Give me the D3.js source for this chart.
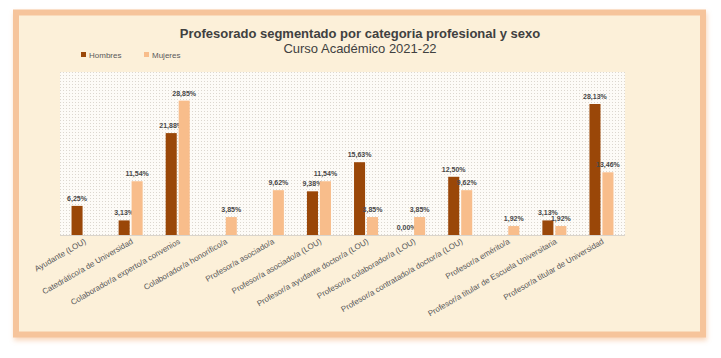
<!DOCTYPE html>
<html><head><meta charset="utf-8">
<script src="https://cdn.jsdelivr.net/npm/d3@7"></script>
<style>body{margin:0;background:#fff;}svg{display:block;font-family:Arial,"Liberation Sans",sans-serif;}</style>
</head><body>
<svg id="c" width="721" height="358"></svg>
<script>
const categories = ["Ayudante (LOU)","Catedrático/a de Universidad","Colaborador/a experto/a convenios","Colaborador/a honorífico/a","Profesor/a asociado/a","Profesor/a asociado/a (LOU)","Profesor/a ayudante doctor/a (LOU)","Profesor/a colaborador/a (LOU)","Profesor/a contratado/a doctor/a (LOU)","Profesor/a emérito/a","Profesor/a titular de Escuela Universitaria","Profesor/a titular de Universidad"];
const hombres = [6.25, 3.13, 21.88, null, null, 9.38, 15.63, 0.00, 12.50, null, 3.13, 28.13];
const mujeres = [null, 11.54, 28.85, 3.85, 9.62, 11.54, 3.85, 3.85, 9.62, 1.92, 1.92, 13.46];
const seriesNames = ["Hombres","Mujeres"];
const colors = ["#9a4708","#f8bd8b"];
const title = "Profesorado segmentado por categoria profesional y sexo";
const subtitle = "Curso Académico 2021-22";

const svg = d3.select("#c");
const defs = svg.append("defs");
const pat = defs.append("pattern").attr("id","dots").attr("width",3).attr("height",3).attr("patternUnits","userSpaceOnUse");
pat.append("rect").attr("width",3).attr("height",3).attr("fill","#fdfbf7");
pat.append("rect").attr("width",1).attr("height",1).attr("fill","#dcd7cf");
const f = defs.append("filter").attr("id","sh").attr("x","-5%").attr("y","-5%").attr("width","110%").attr("height","115%");
f.append("feGaussianBlur").attr("in","SourceAlpha").attr("stdDeviation",2.5);
f.append("feOffset").attr("dx",1).attr("dy",3).attr("result","b");
f.append("feFlood").attr("flood-color","#f3b17c").attr("flood-opacity",0.5);
f.append("feComposite").attr("in2","b").attr("operator","in");
const m = f.append("feMerge"); m.append("feMergeNode"); m.append("feMergeNode").attr("in","SourceGraphic");

// frame
svg.append("rect").attr("x",16).attr("y",12.5).attr("width",687).attr("height",322)
  .attr("fill","#fcf0d9").attr("stroke","#f6c49b").attr("stroke-width",6).attr("filter","url(#sh)");

const plot = {l:60, r:625, t:72, b:235};
svg.append("rect").attr("x",plot.l).attr("y",plot.t).attr("width",plot.r-plot.l).attr("height",plot.b-plot.t).attr("fill","url(#dots)");

const x = d3.scaleBand().domain(categories).range([plot.l, plot.r]).paddingInner(0.49).paddingOuter(0.245);
const x1 = d3.scaleBand().domain(seriesNames).range([0, x.bandwidth()]).paddingInner(0.15);
const y = d3.scaleLinear().domain([0,35]).range([plot.b, plot.t]);

svg.append("line").attr("x1",plot.l).attr("x2",plot.r).attr("y1",y(0)+0.5).attr("y2",y(0)+0.5).attr("stroke","#d9d4cc");

const fmt = v => v.toFixed(2).replace(".",",") + "%";
const data = [hombres, mujeres];
data.forEach((arr, si) => {
  const g = svg.append("g");
  const pts = categories.map((c,i)=>({c, v:arr[i]})).filter(d=>d.v!==null);
  g.selectAll("rect").data(pts).join("rect")
    .attr("x", d=>x(d.c)+x1(seriesNames[si]))
    .attr("width", x1.bandwidth())
    .attr("y", d=>y(d.v))
    .attr("height", d=>y(0)-y(d.v))
    .attr("fill", colors[si]);
  g.selectAll("text").data(pts).join("text")
    .attr("x", d=>x(d.c)+x1(seriesNames[si])+x1.bandwidth()/2)
    .attr("y", d=>y(d.v)-5)
    .attr("text-anchor","middle")
    .attr("font-size",7).attr("font-weight","bold").attr("fill","#474747")
    .text(d=>fmt(d.v));
});

// category labels
svg.append("g").selectAll("text").data(categories).join("text")
  .attr("transform", d=>`translate(${x(d)+x.bandwidth()/2+3},${plot.b+8}) rotate(-30)`)
  .attr("text-anchor","end").attr("font-size",8).attr("fill","#595959")
  .text(d=>d);

// title
svg.append("text").attr("x",360).attr("y",38).attr("text-anchor","middle")
  .attr("font-size",13).attr("font-weight","bold").attr("fill","#404040").text(title);
svg.append("text").attr("x",360).attr("y",53).attr("text-anchor","middle")
  .attr("font-size",13).attr("fill","#404040").text(subtitle);

// legend
const legX = [81, 144];
seriesNames.forEach((s,i)=>{
  svg.append("rect").attr("x",legX[i]).attr("y",52).attr("width",5).attr("height",5).attr("fill",colors[i]);
  svg.append("text").attr("x",legX[i]+8).attr("y",58).attr("font-size",8).attr("fill","#595959").text(s);
});
</script>
</body></html>
